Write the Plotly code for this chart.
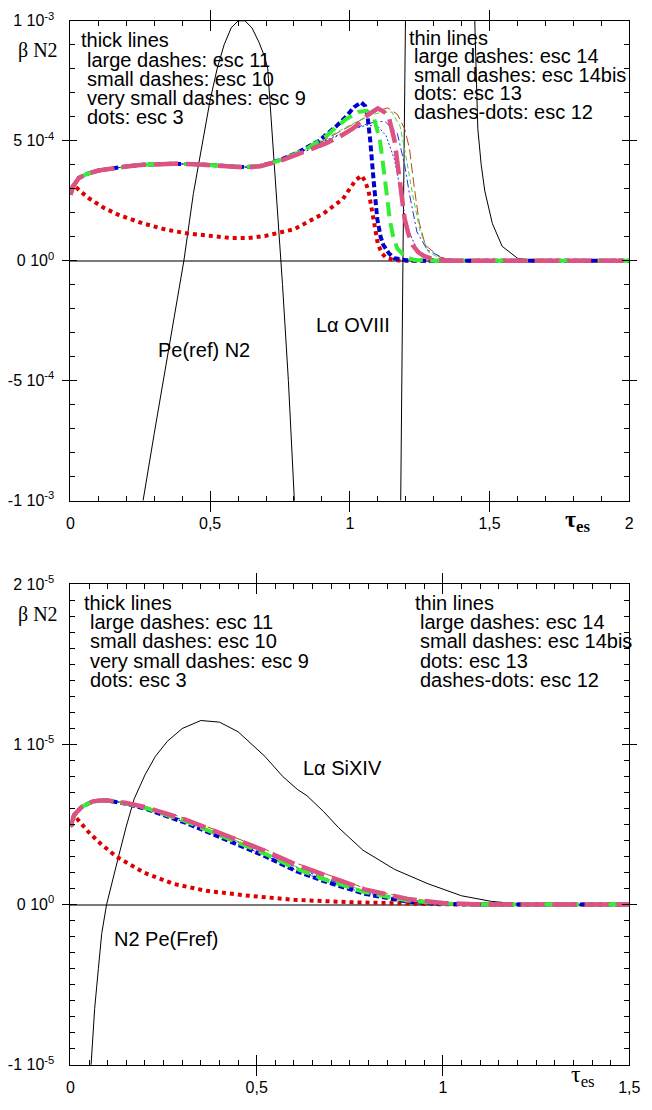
import plotly.graph_objects as go

W, H = 652, 1110
S4 = 1e-4   # top panel values are in units of 1e-4
S6 = 1e-6   # bottom panel values are in units of 1e-6

# ---------------- TOP PANEL (values in 1e-4) ----------------
top_pe_tau = [0.25, 0.26, 0.30, 0.35, 0.385, 0.406, 0.44, 0.473, 0.50, 0.525, 0.55, 0.575, 0.60,
              0.625, 0.65, 0.675, 0.695, 0.706, 0.72, 0.74, 0.759, 0.78, 0.80, 0.81]
top_pe_val = [-11, -10, -7.2, -3.8, -1.6, 0, 2.8, 5.0, 6.7, 8.0, 9.0, 9.7, 10.0,
              10.0, 9.7, 9.1, 8.5, 8.0, 5.7, 2.3, -1.0, -5.0, -10, -12]

top_ly_tau = [1.17, 1.182, 1.19, 1.199, 1.22, 1.30, 1.40, 1.447, 1.458, 1.47, 1.483, 1.51, 1.545, 1.60, 1.65, 2.0]
top_ly_val = [-15, -10, 0, 10, 16, 25, 18, 10, 5.5, 4.0, 2.9, 1.55, 0.6, 0.1, 0, 0]

top_esc3_tau = [0, 0.012, 0.04, 0.07, 0.12, 0.17, 0.26, 0.34, 0.415, 0.5, 0.577, 0.636, 0.7, 0.8,
                0.905, 0.975, 1.02, 1.042, 1.055, 1.067, 1.08, 1.09, 1.1, 1.115, 1.13, 1.16, 1.2, 2.0]
top_esc3_val = [3.0, 3.15, 2.85, 2.57, 2.2, 1.92, 1.55, 1.3, 1.14, 1.02, 0.94, 0.94, 1.04, 1.31,
                1.96, 2.57, 3.35, 3.55, 3.3, 2.9, 2.0, 1.2, 0.7, 0.3, 0.12, 0.02, 0, 0]

top_esc9_tau = [0, 0.01, 0.03, 0.06, 0.1, 0.15, 0.2, 0.26, 0.32, 0.37, 0.45, 0.52, 0.58, 0.63, 0.68, 0.72,
                0.76, 0.81, 0.85, 0.89, 0.92, 0.951, 0.986, 1.015, 1.04, 1.055, 1.063, 1.073, 1.085,
                1.098, 1.11, 1.12, 1.14, 1.16, 1.2, 1.25, 2.0]
top_esc9_val = [2.75, 3.1, 3.45, 3.62, 3.76, 3.86, 3.93, 4.0, 4.03, 4.04, 4.02, 3.98, 3.92, 3.9, 3.96, 4.08,
                4.25, 4.49, 4.75, 5.0, 5.3, 5.6, 6.0, 6.4, 6.6, 6.45, 6.05, 5.0, 3.35,
                1.75, 1.0, 0.65, 0.3, 0.1, 0.02, 0, 0]

top_esc10_tau = [0, 0.01, 0.03, 0.06, 0.1, 0.15, 0.2, 0.26, 0.32, 0.37, 0.45, 0.52, 0.58, 0.63, 0.68, 0.72,
                 0.76, 0.81, 0.85, 0.916, 0.95, 0.986, 1.03, 1.06, 1.085, 1.108, 1.126, 1.143, 1.155,
                 1.17, 1.2, 1.23, 1.3, 2.0]
top_esc10_val = [2.75, 3.1, 3.45, 3.62, 3.76, 3.86, 3.93, 4.0, 4.03, 4.04, 4.02, 3.98, 3.92, 3.9, 3.96, 4.07,
                 4.24, 4.47, 4.7, 5.2, 5.55, 5.9, 6.2, 6.25, 6.0, 5.0, 3.35, 1.7, 1.0,
                 0.5, 0.15, 0.03, 0, 0]

top_esc11_tau = [0, 0.01, 0.03, 0.06, 0.1, 0.15, 0.2, 0.26, 0.32, 0.37, 0.45, 0.52, 0.58, 0.63, 0.68, 0.72,
                 0.76, 0.81, 0.85, 0.916, 0.96, 1.01, 1.04, 1.067, 1.1, 1.137, 1.16, 1.178, 1.196,
                 1.21, 1.225, 1.245, 1.265, 1.3, 1.35, 2.0]
top_esc11_val = [2.75, 3.1, 3.45, 3.62, 3.76, 3.86, 3.93, 4.0, 4.03, 4.04, 4.02, 3.98, 3.92, 3.88, 3.94, 4.05,
                 4.2, 4.42, 4.6, 4.9, 5.15, 5.5, 5.8, 6.1, 6.35, 6.1, 5.0, 3.4, 1.75,
                 1.1, 0.65, 0.35, 0.2, 0.05, 0, 0]

top_esc14_tau = [0, 0.01, 0.03, 0.06, 0.1, 0.15, 0.2, 0.26, 0.32, 0.37, 0.45, 0.52, 0.58, 0.63, 0.68, 0.72,
                 0.76, 0.81, 0.85, 0.92, 1.0, 1.06, 1.1, 1.136, 1.17, 1.196, 1.213, 1.23, 1.248, 1.27,
                 1.32, 1.37, 2.0]
top_esc14_val = [2.75, 3.1, 3.45, 3.62, 3.76, 3.86, 3.93, 4.0, 4.03, 4.04, 4.02, 3.98, 3.92, 3.9, 3.95, 4.06,
                 4.22, 4.45, 4.65, 5.1, 5.6, 6.0, 6.25, 6.37, 6.1, 5.5, 4.7, 3.1, 1.6, 0.65,
                 0.16, 0, 0]

top_esc14b_tau = [0, 0.01, 0.03, 0.06, 0.1, 0.15, 0.2, 0.26, 0.32, 0.37, 0.45, 0.52, 0.58, 0.63, 0.68, 0.72,
                  0.76, 0.81, 0.85, 0.92, 1.0, 1.06, 1.1, 1.15, 1.18, 1.2, 1.224, 1.25, 1.28, 1.33, 2.0]
top_esc14b_val = [2.75, 3.1, 3.45, 3.62, 3.76, 3.86, 3.93, 4.0, 4.03, 4.04, 4.02, 3.98, 3.92, 3.9, 3.96, 4.07,
                  4.24, 4.47, 4.7, 5.15, 5.65, 6.0, 6.15, 6.2, 5.6, 4.4, 2.8, 1.3, 0.37, 0.05, 0]

top_esc13_tau = [0, 0.01, 0.03, 0.06, 0.1, 0.15, 0.2, 0.26, 0.32, 0.37, 0.45, 0.52, 0.58, 0.63, 0.68, 0.72,
                 0.76, 0.81, 0.85, 0.92, 1.0, 1.06, 1.1, 1.13, 1.16, 1.18, 1.195, 1.215, 1.24, 1.28, 1.33, 2.0]
top_esc13_val = [2.75, 3.1, 3.45, 3.62, 3.76, 3.86, 3.93, 4.0, 4.03, 4.04, 4.02, 3.98, 3.92, 3.9, 3.95, 4.06,
                 4.22, 4.45, 4.65, 5.05, 5.45, 5.65, 5.6, 5.2, 4.2, 3.0, 2.0, 1.1, 0.5, 0.12, 0, 0]

top_esc12_tau = [0, 0.01, 0.03, 0.06, 0.1, 0.15, 0.2, 0.26, 0.32, 0.37, 0.45, 0.52, 0.58, 0.63, 0.68, 0.72,
                 0.76, 0.81, 0.85, 0.92, 1.0, 1.06, 1.1, 1.126, 1.17, 1.196, 1.213, 1.24, 1.277, 1.335, 1.4, 2.0]
top_esc12_val = [2.75, 3.1, 3.45, 3.62, 3.76, 3.86, 3.93, 4.0, 4.03, 4.04, 4.02, 3.98, 3.92, 3.9, 3.95, 4.06,
                 4.22, 4.44, 4.6, 5.0, 5.45, 5.7, 5.8, 5.8, 5.3, 4.0, 2.8, 1.2, 0.45, 0.1, 0, 0]

# ---------------- BOTTOM PANEL (values in 1e-6) ----------------
bot_black_tau = [0.05, 0.055, 0.065, 0.075, 0.084, 0.097, 0.11, 0.128, 0.15, 0.171, 0.2, 0.228, 0.26, 0.3,
                 0.35, 0.4, 0.45, 0.522, 0.57, 0.609, 0.635, 0.68, 0.72, 0.785, 0.87, 0.96, 1.05, 1.13,
                 1.2, 1.25, 1.5]
bot_black_val = [-12, -10, -6.5, -4.0, -1.8, 0, 1.3, 2.9, 4.9, 6.6, 8.1, 9.26, 10.2, 11.0,
                 11.5, 11.4, 10.8, 9.26, 8.0, 7.2, 6.8, 5.8, 4.8, 3.4, 2.2, 1.3, 0.55, 0.2,
                 0.05, 0, 0]

bot_tau = [0, 0.01, 0.03, 0.06, 0.08, 0.1, 0.15, 0.2, 0.31, 0.435, 0.52, 0.605, 0.68, 0.79, 0.905, 1.0, 1.1, 1.5]
bot_esc9 = [4.9, 5.6, 6.1, 6.45, 6.5, 6.5, 6.3, 6.0, 5.1, 3.85, 3.05, 2.1, 1.47, 0.67, 0.18, 0.05, 0, 0]
bot_esc10 = [4.9, 5.6, 6.1, 6.45, 6.5, 6.5, 6.32, 6.05, 5.2, 4.0, 3.2, 2.25, 1.58, 0.78, 0.25, 0.07, 0, 0]
bot_esc11 = [4.9, 5.6, 6.1, 6.45, 6.5, 6.5, 6.35, 6.1, 5.3, 4.15, 3.38, 2.5, 1.85, 0.95, 0.35, 0.1, 0.01, 0]
bot_esc14 = [4.9, 5.6, 6.1, 6.45, 6.5, 6.5, 6.38, 6.15, 5.38, 4.25, 3.48, 2.6, 1.95, 1.02, 0.4, 0.12, 0.02, 0]
bot_esc14b = [4.9, 5.6, 6.1, 6.45, 6.5, 6.5, 6.34, 6.08, 5.25, 4.08, 3.3, 2.38, 1.7, 0.85, 0.3, 0.08, 0, 0]
bot_esc13 = [4.9, 5.6, 6.1, 6.45, 6.5, 6.5, 6.3, 6.02, 5.12, 3.9, 3.1, 2.15, 1.52, 0.7, 0.2, 0.05, 0, 0]
bot_esc12 = [4.9, 5.6, 6.1, 6.45, 6.5, 6.5, 6.33, 6.06, 5.22, 4.05, 3.25, 2.32, 1.65, 0.82, 0.28, 0.08, 0, 0]

bot_esc3_tau = [0, 0.02, 0.05, 0.079, 0.123, 0.197, 0.276, 0.365, 0.48, 0.6, 0.75, 0.9, 1.0, 1.1, 1.5]
bot_esc3 = [4.9, 5.3, 4.5, 3.85, 3.0, 2.0, 1.3, 0.86, 0.55, 0.3, 0.15, 0.05, 0.02, 0, 0]

# tick labels
top_xticks = [0, 0.5, 1, 1.5, 2]
top_xtext = ["0", "0,5", "1", "1,5", "2"]
top_yticks = [1e-3, 5e-4, 0, -5e-4, -1e-3]
top_ytext = ["1 10<sup>-3</sup>", "5 10<sup>-4</sup>", "0 10<sup>0</sup>", "-5 10<sup>-4</sup>", "-1 10<sup>-3</sup>"]
bot_xticks = [0, 0.5, 1, 1.5]
bot_xtext = ["0", "0,5", "1", "1,5"]
bot_yticks = [2e-5, 1e-5, 0, -1e-5]
bot_ytext = ["2 10<sup>-5</sup>", "1 10<sup>-5</sup>", "0 10<sup>0</sup>", "-1 10<sup>-5</sup>"]

legend_thick = ["thick lines", "large dashes: esc 11", "small dashes: esc 10",
                "very small dashes: esc 9", "dots: esc 3"]
legend_thin = ["thin lines", "large dashes: esc 14", "small dashes: esc 14bis",
               "dots: esc 13", "dashes-dots: esc 12"]

# ---------------- styles ----------------
RED, BLUE, GREEN, PINK = "#dd0000", "#0000cc", "#33ee33", "#dd5282"
BROWN, TBLUE, TGREEN = "#b54a10", "#2a2ae0", "#3ad83a"

fig = go.Figure()


def add(x, y, scale, color, width, dash, xa, ya):
    fig.add_trace(go.Scatter(x=x, y=[v * scale for v in y], mode="lines",
                             line=dict(color=color, width=width, dash=dash),
                             xaxis=xa, yaxis=ya, showlegend=False, hoverinfo="skip"))


# top panel
add(top_pe_tau, top_pe_val, S4, "black", 1, "solid", "x", "y")
add(top_ly_tau, top_ly_val, S4, "black", 1, "solid", "x", "y")
add(top_esc14_tau, top_esc14_val, S4, BROWN, 1, "10px,4px", "x", "y")
add(top_esc14b_tau, top_esc14b_val, S4, TGREEN, 1, "5px,3px", "x", "y")
add(top_esc13_tau, top_esc13_val, S4, TBLUE, 1, "2px,2px", "x", "y")
add(top_esc12_tau, top_esc12_val, S4, TBLUE, 1, "8px,3px,2px,3px", "x", "y")
add(top_esc3_tau, top_esc3_val, S4, RED, 4, "4px,4px", "x", "y")
add(top_esc9_tau, top_esc9_val, S4, BLUE, 4, "6px,3px", "x", "y")
add(top_esc10_tau, top_esc10_val, S4, GREEN, 4, "14px,7px", "x", "y")
add(top_esc11_tau, top_esc11_val, S4, PINK, 4.5, "24px,8px", "x", "y")

# bottom panel
add(bot_black_tau, bot_black_val, S6, "black", 1, "solid", "x2", "y2")
add(bot_tau, bot_esc14, S6, BROWN, 1, "10px,4px", "x2", "y2")
add(bot_tau, bot_esc14b, S6, TGREEN, 1, "5px,3px", "x2", "y2")
add(bot_tau, bot_esc13, S6, TBLUE, 1, "2px,2px", "x2", "y2")
add(bot_tau, bot_esc12, S6, TBLUE, 1, "8px,3px,2px,3px", "x2", "y2")
add(bot_esc3_tau, bot_esc3, S6, RED, 4, "4px,4px", "x2", "y2")
add(bot_tau, bot_esc9, S6, BLUE, 4, "6px,3px", "x2", "y2")
add(bot_tau, bot_esc10, S6, GREEN, 4, "14px,7px", "x2", "y2")
add(bot_tau, bot_esc11, S6, PINK, 4.5, "24px,8px", "x2", "y2")

# empty traces so the minor-tick overlay axes get drawn
for xa, ya in [("x3", "y"), ("x", "y3"), ("x4", "y2"), ("x2", "y4")]:
    fig.add_trace(go.Scatter(x=[None], y=[None], xaxis=xa, yaxis=ya, showlegend=False, hoverinfo="skip"))

TICKFONT = dict(family="Liberation Sans", size=16, color="black")
TXT = dict(family="Liberation Sans", size=20, color="black")

xdom = [68 / W, 640 / W]
top_dom = [1 - 498.5 / H, 1 - 10 / H]
bot_dom = [1 - 1073 / H, 1 - 584 / H]


def xax(rng, vals, text, anchor):
    return dict(domain=xdom, range=rng, tickmode="array", tickvals=vals, ticktext=text,
                ticks="inside", ticklen=10, tickwidth=1, tickcolor="black",
                showline=True, linecolor="black", linewidth=1, mirror="allticks",
                showgrid=False, zeroline=False, tickfont=TICKFONT, ticklabelstandoff=8,
                anchor=anchor, fixedrange=True)


def yax(rng, vals, text, dom, anchor):
    return dict(domain=dom, range=rng, tickmode="array", tickvals=vals, ticktext=text,
                ticks="inside", ticklen=7, tickwidth=1, tickcolor="black",
                showline=True, linecolor="black", linewidth=1, mirror="allticks",
                showgrid=False, zeroline=True, zerolinecolor="#7a7a7a", zerolinewidth=2,
                tickfont=TICKFONT, ticklabelstandoff=12, anchor=anchor, fixedrange=True)


def minor_ax(rng, dtick, over, anchor, side):
    return dict(range=rng, overlaying=over, anchor=anchor, side=side, tickmode="linear", tick0=0,
                dtick=dtick, ticks="inside", ticklen=5, tickwidth=1, tickcolor="black",
                showticklabels=False, showline=False, showgrid=False, zeroline=False,
                mirror="allticks", fixedrange=True)


fig.update_layout(
    width=W, height=H, margin=dict(l=0, r=0, t=0, b=0),
    paper_bgcolor="white", plot_bgcolor="white", showlegend=False,
    xaxis=xax([0, 2], top_xticks, top_xtext, "y"),
    yaxis=yax([-1e-3, 1e-3], top_yticks, top_ytext, top_dom, "x"),
    xaxis2=xax([0, 1.5], bot_xticks, bot_xtext, "y2"),
    yaxis2=yax([-1e-5, 2e-5], bot_yticks, bot_ytext, bot_dom, "x2"),
    xaxis3=minor_ax([0, 2], 0.1, "x", "y", "bottom"),
    yaxis3=minor_ax([-1e-3, 1e-3], 1e-4, "y", "x", "left"),
    xaxis4=minor_ax([0, 1.5], 0.05, "x2", "y2", "bottom"),
    yaxis4=minor_ax([-1e-5, 2e-5], 1e-6, "y2", "x2", "left"),
)

anns = []


def ann(text, px, py, font, xanchor="left"):
    anns.append(dict(text=text, x=px / W, y=1 - py / H, xref="paper", yref="paper",
                     xanchor=xanchor, yanchor="middle", showarrow=False, font=font))


# legends top
for i, t in enumerate(legend_thick):
    ann(t, 77 if i == 0 else 83, 30 + 19.5 * i, TXT)
for i, t in enumerate(legend_thin):
    ann(t, 413 if i == 0 else 418, 27 + 19 * i, TXT)
# legends bottom
for i, t in enumerate(legend_thick):
    ann(t, 80 if i == 0 else 86, 603 + 19.5 * i, TXT)
for i, t in enumerate(legend_thin):
    ann(t, 419 if i == 0 else 424, 603 + 19.5 * i, TXT)

SERIF = dict(family="Liberation Serif", size=20, color="black")
ann("β N2", 57, 40, SERIF, "right")
ann("β N2", 57, 615, SERIF, "right")

ann("Pe(ref) N2", 205, 345, TXT, "center")
ann("Lα OVIII", 357, 320, TXT, "center")
ann("Lα SiXIV", 346, 771, TXT, "center")
ann("N2 Pe(Fref)", 166, 945, TXT, "center")

TAU = dict(family="Liberation Serif", size=24, color="black")
ann("<b>τ</b><sub><b>es</b></sub>", 572, 519, TAU, "left")
ann("τ<sub>es</sub>", 578, 1085, TAU, "left")

fig.update_layout(annotations=anns)
fig.write_html("out.html")
